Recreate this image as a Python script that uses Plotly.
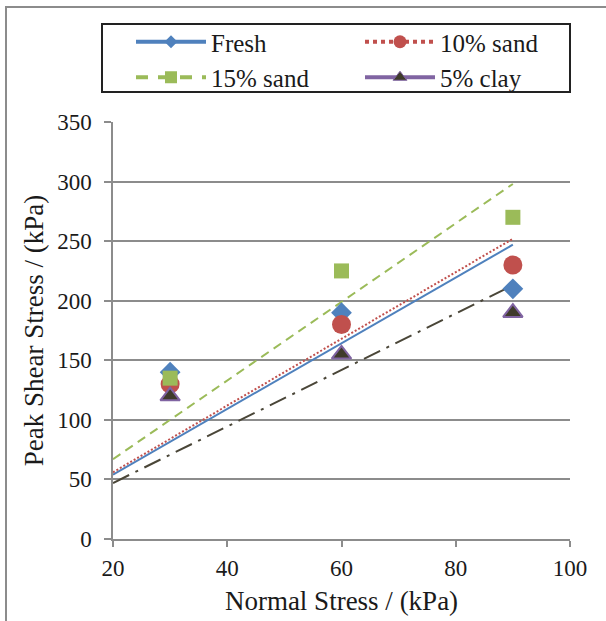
import plotly.graph_objects as go

# Data
normal_stress = [30, 60, 90]
fresh = [140, 190, 210]
sand10 = [130, 180, 230]
sand15 = [135, 225, 270]
clay5 = [120, 155, 190]

# Trend lines (endpoints)
trend_x = [20, 90]
trend_fresh = [54, 247]
trend_sand10 = [56, 252]
trend_sand15 = [67, 298]
trend_clay5 = [47, 213]

names = ["Fresh", "10% sand", "15% sand", "5% clay"]

BLUE = "#4F81BD"
RED = "#C0504D"
GREEN = "#9BBB59"
PURPLE = "#8064A2"
DARK = "#3F3B2B"
DARKLINE = "#4A4638"

FONT = "Liberation Serif"
TXT = "#1a1a1a"

fig = go.Figure()

fig.add_trace(go.Scatter(x=trend_x, y=trend_fresh, mode="lines",
                         line=dict(color=BLUE, width=2), showlegend=False, hoverinfo="skip"))
fig.add_trace(go.Scatter(x=trend_x, y=trend_sand10, mode="lines",
                         line=dict(color=RED, width=2, dash="2px,2px"), showlegend=False, hoverinfo="skip"))
fig.add_trace(go.Scatter(x=trend_x, y=trend_sand15, mode="lines",
                         line=dict(color=GREEN, width=2, dash="9px,6px"), showlegend=False, hoverinfo="skip"))
fig.add_trace(go.Scatter(x=trend_x, y=trend_clay5, mode="lines",
                         line=dict(color=DARKLINE, width=2, dash="18px,7px,3px,7px"), showlegend=False, hoverinfo="skip"))

fig.add_trace(go.Scatter(x=normal_stress, y=fresh, mode="markers", name=names[0], showlegend=False,
                         marker=dict(symbol="diamond", size=16, color=BLUE)))
fig.add_trace(go.Scatter(x=normal_stress, y=sand10, mode="markers", name=names[1], showlegend=False,
                         marker=dict(symbol="circle", size=19, color=RED)))
fig.add_trace(go.Scatter(x=normal_stress, y=sand15, mode="markers", name=names[2], showlegend=False,
                         marker=dict(symbol="square", size=15, color=GREEN)))
fig.add_trace(go.Scatter(x=normal_stress, y=clay5, mode="markers", name=names[3], showlegend=False,
                         marker=dict(symbol="triangle-up", size=17, color=DARK,
                                     line=dict(color=PURPLE, width=2))))

fig.add_trace(go.Scatter(x=[None], y=[None], mode="lines+markers", name=names[0],
                         line=dict(color=BLUE, width=4),
                         marker=dict(symbol="diamond", size=10, color=BLUE)))
fig.add_trace(go.Scatter(x=[None], y=[None], mode="lines+markers", name=names[1],
                         line=dict(color=RED, width=4, dash="dot"),
                         marker=dict(symbol="circle", size=13, color=RED)))
fig.add_trace(go.Scatter(x=[None], y=[None], mode="lines+markers", name=names[2],
                         line=dict(color=GREEN, width=4, dash="12px,10px"),
                         marker=dict(symbol="square", size=12, color=GREEN)))
fig.add_trace(go.Scatter(x=[None], y=[None], mode="lines+markers", name=names[3],
                         line=dict(color=PURPLE, width=4),
                         marker=dict(symbol="triangle-up", size=12, color=DARK,
                                     line=dict(color=PURPLE, width=1))))

W, H = 606, 621
ml, mr, mt, mb = 113, 36, 122, 82
pw, ph = W - ml - mr, H - mt - mb

def px_x(p):
    return (p - ml) / pw

def px_y(p):
    return (H - mb - p) / ph

fig.update_layout(
    width=W, height=H,
    margin=dict(l=ml, r=mr, t=mt, b=mb, pad=0, autoexpand=False),
    paper_bgcolor="white", plot_bgcolor="white",
    font=dict(family=FONT, color=TXT, size=23),
    showlegend=True,
    legend=dict(
        orientation="h",
        x=px_x(131), xanchor="left",
        y=px_y(19), yanchor="top",
        entrywidth=144, entrywidthmode="pixels",
        itemwidth=70,
        borderwidth=0,
        bgcolor="rgba(0,0,0,0)",
        font=dict(family=FONT, size=25, color=TXT),
        traceorder="normal",
        itemclick=False,
    ),
    xaxis=dict(
        range=[20, 100], tickvals=[20, 40, 60, 80, 100],
        showgrid=False, zeroline=False, automargin=False,
        showline=True, linecolor="#8c8c8c", linewidth=1.5,
        ticks="outside", ticklen=6, tickcolor="#8c8c8c", tickwidth=1.5,
        ticklabelstandoff=2,
        tickfont=dict(family=FONT, size=23, color=TXT),
        title=dict(text="Normal Stress / (kPa)", font=dict(family=FONT, size=27, color=TXT), standoff=11),
    ),
    yaxis=dict(
        range=[0, 350], tickvals=[0, 50, 100, 150, 200, 250, 300, 350],
        showgrid=True, gridcolor="#8c8c8c", gridwidth=1.5,
        zeroline=False, automargin=False,
        showline=True, linecolor="#8c8c8c", linewidth=1.5,
        ticks="outside", ticklen=7, tickcolor="#8c8c8c", tickwidth=1.5,
        ticklabelstandoff=8,
        tickfont=dict(family=FONT, size=23, color=TXT),
        title=dict(text="Peak Shear Stress / (kPa)", font=dict(family=FONT, size=27, color=TXT), standoff=6),
    ),
    shapes=[
        dict(type="rect", xref="paper", yref="paper",
             x0=px_x(6), x1=px_x(620), y0=px_y(640), y1=px_y(7),
             line=dict(color="#8c8c8c", width=2), fillcolor="rgba(0,0,0,0)", layer="below"),
        dict(type="rect", xref="paper", yref="paper",
             x0=px_x(102), x1=px_x(570), y0=px_y(92), y1=px_y(24),
             line=dict(color="#222222", width=2), fillcolor="rgba(0,0,0,0)", layer="above"),
    ],
)

fig.write_html("out.html")
